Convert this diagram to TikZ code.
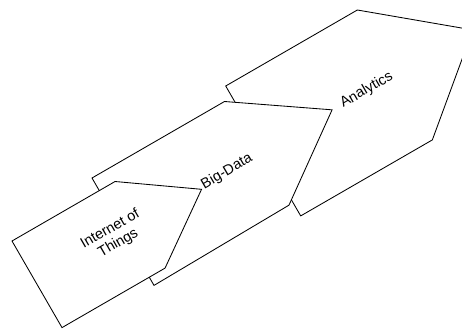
\documentclass[tikz,border=0pt]{standalone}
\usepackage{fontspec}
\setmainfont{Liberation Sans}
\begin{document}
\begin{tikzpicture}[x=1pt,y=1pt,
  shp/.style={draw=black, fill=white, line width=0.85pt, line join=miter},
  lbl/.style={font=\fontsize{14.5}{16}\selectfont, align=center, rotate=30, inner sep=0pt}]
\useasboundingbox (0,-329) rectangle (462,0);
\clip (0,-329) rectangle (462,0);
% Analytics (back)
\begin{scope}[shift={(225.7,-86)}, rotate=30]
  \draw[shp] (0,0) -- (152,0) -- (242,-75) -- (152,-150) -- (0,-150) -- cycle;
  \node[lbl] (an) at (120,-74) {Analytics};
\end{scope}
% Big-Data
\begin{scope}[shift={(92,-178)}, rotate=30]
  \draw[shp] (0,0) -- (153,0) -- (242,-61) -- (157,-122) -- (0,-124) -- cycle;
  \node[lbl] (bd) at (120,-62) {Big-Data};
\end{scope}
% Internet of Things (front)
\begin{scope}[shift={(12,-241)}, rotate=30]
  \draw[shp] (0,0) -- (119,0) -- (190,-50) -- (119,-100) -- (0,-100) -- cycle;
  \node[lbl] (iot) at (91,-47) {Internet of\\Things};
\end{scope}
\end{tikzpicture}
\end{document}
